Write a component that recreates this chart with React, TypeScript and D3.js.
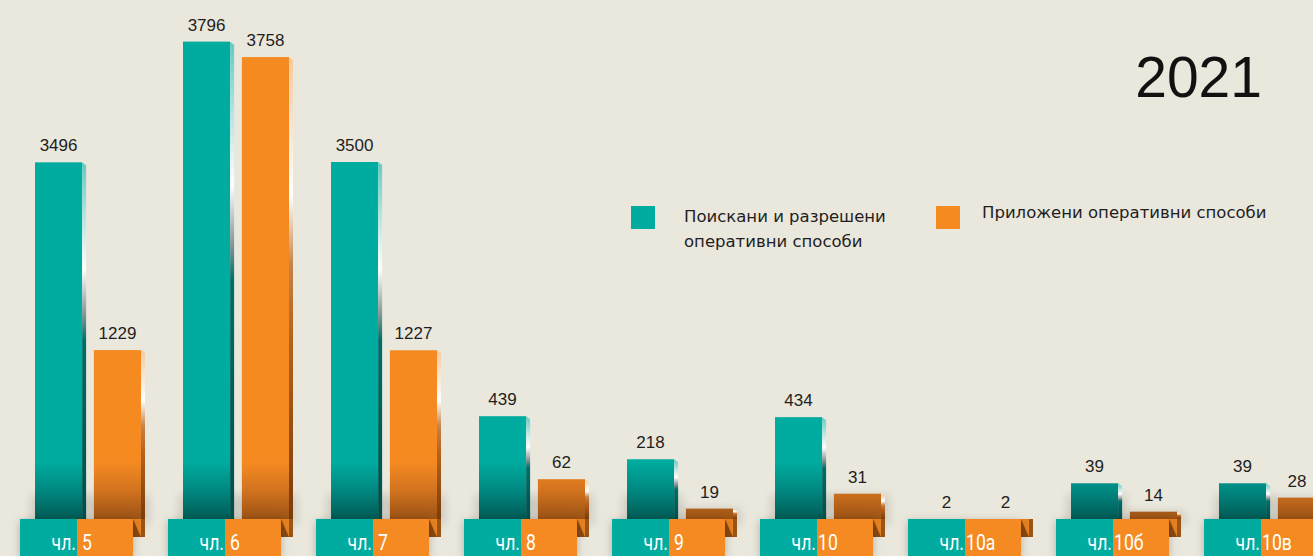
import React from "react";
import * as d3 from "d3";

const categories = ["чл. 5", "чл. 6", "чл. 7", "чл. 8", "чл. 9", "чл.10", "чл.10а", "чл.10б", "чл.10в"];
const requested = [3496, 3796, 3500, 439, 218, 434, 2, 39, 39];
const applied = [1229, 3758, 1227, 62, 19, 31, 2, 14, 28];
const seriesNames = ["Поискани и разрешени оперативни способи", "Приложени оперативни способи"];
const legendLines = [["Поискани и разрешени", "оперативни способи"], ["Приложени оперативни способи"]];
const yearLabel = "2021";

const W = 1313;
const H = 556;
const BASE = 519;
const BOTTOM = 537;
const TEAL = "#00ab9f";
const ORANGE = "#f58a21";
const BG = "#eae7dc";
const CONDENSED = "Roboto, 'Liberation Sans', sans-serif";

export default function App() {
  const x = d3.scaleBand<string>().domain(categories).range([20, 20 + 148 * categories.length]);
  const sub = d3.scaleBand<string>().domain(seriesNames).range([15, 121]).paddingInner(0.2);
  // broken (piecewise) value axis, as in the infographic
  const y = d3
    .scaleLinear()
    .domain([0, 2, 20, 40, 220, 440, 1230, 3500, 3800])
    .range([BASE, BASE, 508, 482, 459, 416, 350, 162, 40]);
  const boxW = 57;
  const side = 4;
  const series = [requested, applied];
  const fills = ["url(#tealFront)", "url(#orangeFront)"];
  const sides = ["url(#tealSide)", "url(#orangeSide)"];

  return (
    <svg width={W} height={H} style={{ position: "fixed", left: 0, top: 0 }} fontFamily="'Liberation Sans', Arial, sans-serif">
      <defs>
        <linearGradient id="tealFront" gradientUnits="userSpaceOnUse" x1="0" x2="0" y1="462" y2={BASE}>
          <stop offset="0" stopColor="#00ab9f" />
          <stop offset="0.5" stopColor="#008880" />
          <stop offset="1" stopColor="#005a55" />
        </linearGradient>
        <linearGradient id="orangeFront" gradientUnits="userSpaceOnUse" x1="0" x2="0" y1="462" y2={BASE}>
          <stop offset="0" stopColor="#f58a21" />
          <stop offset="0.5" stopColor="#d2731f" />
          <stop offset="1" stopColor="#9a5214" />
        </linearGradient>
        <linearGradient id="tealSide" x1="0" x2="0" y1="0" y2="1">
          <stop offset="0" stopColor="#62cbc2" />
          <stop offset="0.3" stopColor="#ffffff" />
          <stop offset="0.42" stopColor="#8a9a9a" />
          <stop offset="0.5" stopColor="#006f69" />
          <stop offset="1" stopColor="#004f4b" />
        </linearGradient>
        <linearGradient id="orangeSide" x1="0" x2="0" y1="0" y2="1">
          <stop offset="0" stopColor="#f3c9a0" />
          <stop offset="0.3" stopColor="#ffffff" />
          <stop offset="0.45" stopColor="#c4834a" />
          <stop offset="0.6" stopColor="#b8631c" />
          <stop offset="1" stopColor="#7a3c0a" />
        </linearGradient>
        <filter id="blur" x="-50%" y="-50%" width="200%" height="200%">
          <feGaussianBlur stdDeviation="5" />
        </filter>
        <filter id="boxShadow" x="-20%" y="-50%" width="140%" height="200%">
          <feDropShadow dx="0" dy="2" stdDeviation="4" floodColor="#000" floodOpacity="0.25" />
        </filter>
      </defs>
      <rect width={W} height={H} fill={BG} />

      {categories.map((c, i) => {
        const g = x(c)!;
        const prefix = "чл.";
        const restRaw = c.slice(prefix.length);
        const gap = restRaw.startsWith(" ") ? 5 : 1;
        const rest = restRaw.trim();
        return (
          <g key={c}>
            {series.map((vals, s) => {
              const bx = g + sub(seriesNames[s])!;
              const bw = sub.bandwidth();
              const top = y(vals[i]);
              const bottom = BASE;
              const h = Math.max(0, bottom - top);
              const lx = Math.min(bx + bw / 2, W - 16);
              return (
                <g key={s}>
                  {h > 0 && (
                    <rect
                      x={bx - 4}
                      y={Math.max(top, 495)}
                      width={bw + 12}
                      height={BASE - Math.max(top, 495) + 6}
                      fill="#000"
                      opacity={0.12}
                      filter="url(#blur)"
                    />
                  )}
                  {h > 0 && <rect x={bx} y={top} width={bw} height={h} fill={fills[s]} />}
                  {h > 0 && (
                    <polygon
                      points={`${bx + bw},${top} ${bx + bw + side},${top + 3} ${bx + bw + side},${bottom} ${bx + bw},${bottom}`}
                      fill={sides[s]}
                    />
                  )}
                  {s === 1 && (
                    <g>
                      <rect x={g + 2 * boxW - 1} y={BASE} width={bx + bw + side - (g + 2 * boxW - 1)} height={BOTTOM - BASE} fill="#e8821f" />
                      <polygon
                        points={`${g + 2 * boxW - 1},${BASE} ${bx + bw},${BOTTOM} ${g + 2 * boxW - 1},${BOTTOM}`}
                        fill="#8a4a14"
                      />
                      <rect x={bx + bw} y={BASE} width={side} height={BOTTOM - BASE} fill="#9a5516" />
                    </g>
                  )}
                  <text x={lx} y={top - 11} textAnchor="middle" fontSize={17} fill="#1e1e1e">
                    {vals[i]}
                  </text>
                </g>
              );
            })}
            <g filter="url(#boxShadow)">
              <rect x={g} y={BASE} width={boxW} height={H - BASE} fill={TEAL} />
              <rect x={g + boxW} y={BASE} width={boxW - 1} height={H - BASE} fill={ORANGE} />
            </g>
            <text
              transform={`translate(${g + boxW - 1},550) scale(0.8,1)`}
              textAnchor="end"
              fontSize={22}
              fill="#ffffff"
              fontFamily={CONDENSED}
            >
              {prefix}
            </text>
            <text
              transform={`translate(${g + boxW + gap},550) scale(0.8,1)`}
              textAnchor="start"
              fontSize={22}
              fill="#ffffff"
              fontFamily={CONDENSED}
            >
              {rest}
            </text>
          </g>
        );
      })}

      {/* legend */}
      {legendLines.map((lines, s) => {
        const lx = s === 0 ? 631 : 936;
        return (
          <g key={s}>
            <rect x={lx} y={206} width={24} height={23} fill={s === 0 ? TEAL : ORANGE} />
            {lines.map((ln, k) => (
              <text key={k} x={lx + (s === 0 ? 53 : 46)} y={(s === 0 ? 222 : 218) + k * 25} fontSize={16.5} fill="#1e1e1e" fontFamily="'DejaVu Sans', sans-serif">
                {ln}
              </text>
            ))}
          </g>
        );
      })}

      <text x={1262} y={97} textAnchor="end" fontSize={57} fill="#111" fontFamily="'Liberation Sans', Arial, sans-serif">
        {yearLabel}
      </text>
    </svg>
  );
}
